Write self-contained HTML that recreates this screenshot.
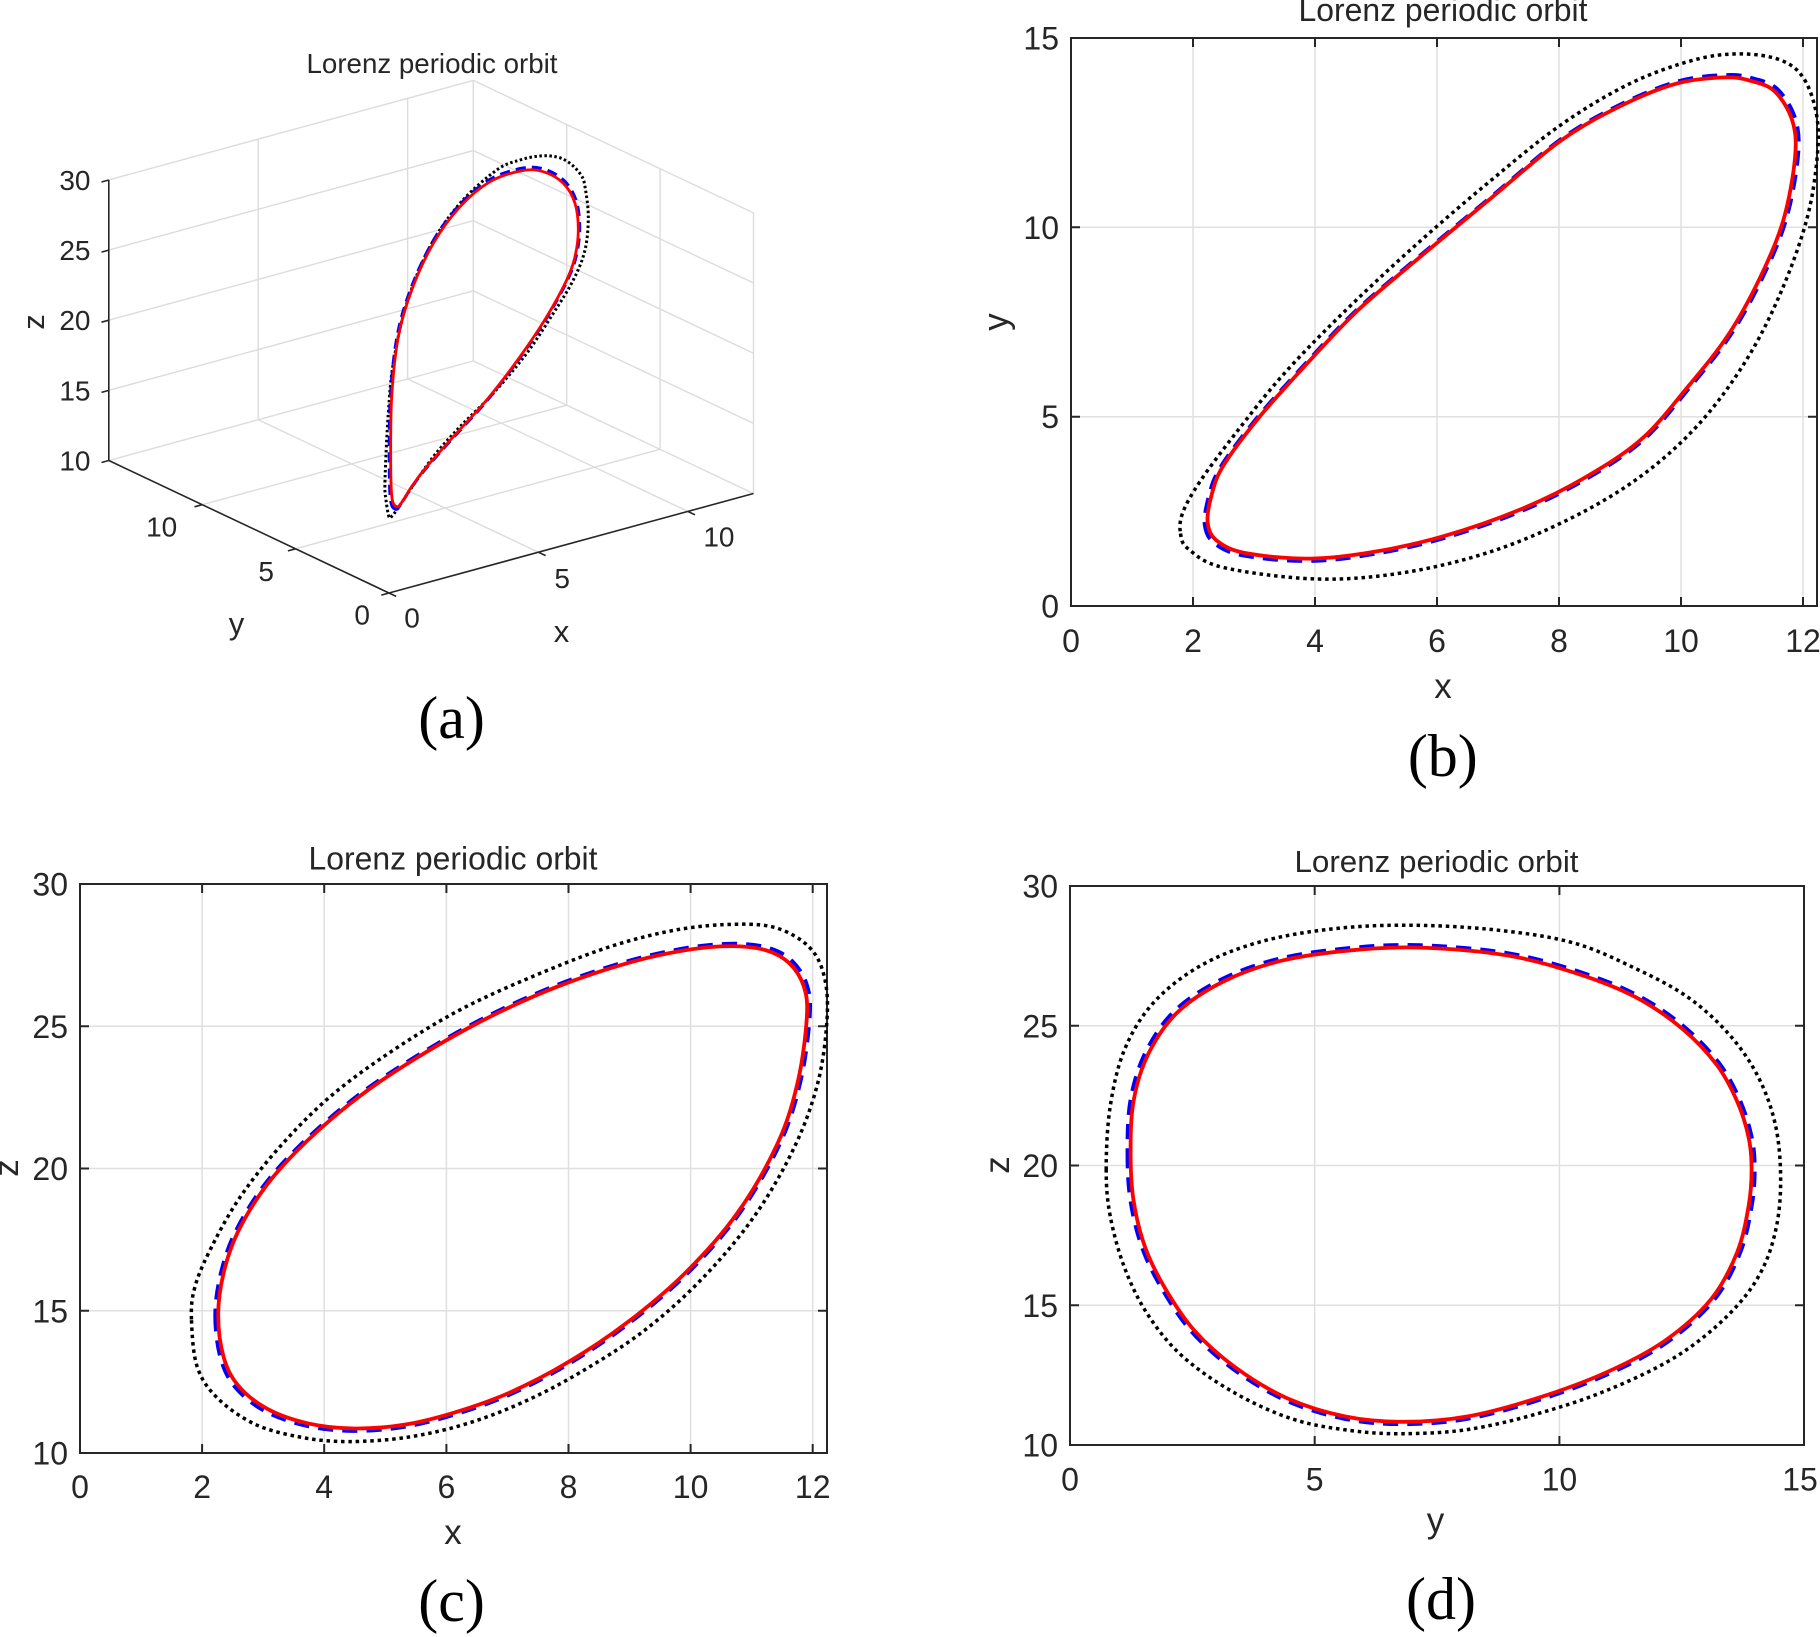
<!DOCTYPE html>
<html>
<head>
<meta charset="utf-8">
<style>
  html, body { margin: 0; padding: 0; background: #ffffff; }
  svg { display: block; }
  text { font-family: "Liberation Sans", Arial, sans-serif; fill: #262626; }
  .serif { font-family: "Liberation Serif", "Times New Roman", serif; fill: #000; }
</style>
</head>
<body>
<svg id="fig" xmlns="http://www.w3.org/2000/svg" xmlns:xlink="http://www.w3.org/1999/xlink" width="1820" height="1637" viewBox="0 0 1820 1637">
<rect x="0" y="0" width="1820" height="1637" fill="#ffffff"/>

<defs>
  <path class="crv" id="ra" d="M396.7,506.7 392,498 390.7,463.3 391.7,396.7 398.3,336.7 411.7,290 433.3,243.3 460,206.7 490,181.7 521.7,170.7 543.3,171.7 563.3,183.3 575,203.3 578.3,230 575,256.7 566.7,280 546.7,316.7 520,356.7 486.7,400 453.3,436.7 426.7,466.7 412,486 402,502 Z"/>
  <path class="crv" id="ka" d="M389,517 386,500 385,480 388.3,413.3 393.3,363.3 406.7,303.3 430,246.7 460,203.3 496.7,170 520,160 540,156 557,157 570,163.3 581,175 585,186.7 588.3,216.7 585,250 573.3,280 553.3,313.3 526.7,353.3 493.3,393.3 460,426.7 433.3,456.7 410,490 396.7,510 392,516 Z"/>

  <path class="crv" id="rb" d="M1207.7,523 1217.6,541.3 1246.6,553.3 1310.5,558.6 1374.3,551.8 1444,536.1 1519.4,509.9 1583.3,478.5 1641.3,439.3 1687.7,387 1728.4,334.7 1760.3,277.2 1783.5,219.7 1795.1,156.9 1792.2,120.3 1774.8,91.5 1751.6,81.1 1725.5,77.4 1676.1,83.7 1618.1,107.2 1560,141.2 1490.4,198.7 1420.8,256.3 1356.9,311.2 1304.7,366.1 1258.2,418.4 1223.4,465.5 1211.8,494.2 Z"/>
  <path class="crv" id="kb" d="M1180.5,533.5 1188.6,549.2 1223.4,567.5 1316.3,579 1403.3,572.7 1490.4,551.8 1571.7,517.8 1641.3,475.9 1699.3,423.6 1745.8,360.9 1780.6,292.9 1806.7,219.7 1817.2,156.9 1816.6,115.1 1803.8,78.5 1780.6,60.1 1740,53.9 1693.5,60.1 1629.7,83.7 1560,125.5 1484.6,185.7 1409.1,251 1339.5,316.4 1281.5,376.6 1235,434.1 1200.2,481.2 1182.8,512.5 Z"/>

  <path class="crv" id="rc" d="M218.2,1314.9 223.5,1356.6 238,1385.3 267,1408.7 307.6,1423.3 354,1428.5 406.3,1424.4 458.5,1411.3 510.8,1392.1 568.8,1361.8 626.8,1322.8 684.9,1273.3 737.1,1213.4 777.8,1143 798.1,1080.5 806.8,1018 803.9,986.7 789.4,963.3 766.1,950.3 731.3,946.1 684.9,950.3 626.8,963.3 557.2,986.7 487.5,1018 417.9,1057.1 359.8,1096.1 307.6,1140.4 267,1184.7 238,1231.6 223.5,1273.3 Z"/>
  <path class="crv" id="kc" d="M191.5,1320.2 197.3,1367.1 217.7,1398.3 255.4,1424.4 301.8,1437.4 348.2,1441.6 406.3,1437.4 464.3,1424.4 522.4,1402.5 580.4,1372.3 644.2,1330.6 702.3,1278.5 754.5,1216 795.1,1145.6 818.4,1080.5 827.1,1018 824.2,976.3 809.7,947.6 777.8,928.4 737.1,924.2 679.1,929.4 615.2,945 545.6,971.1 464.3,1007.6 394.7,1049.2 330.8,1096.1 278.6,1148.2 238,1200.3 208.9,1252.4 194.4,1288.9 Z"/>

  <path class="crv" id="rd" d="M1130.6,1153.4 1133.5,1200.3 1145.1,1247.2 1165.4,1288.9 1194.4,1330.6 1235,1367.1 1287.3,1398.3 1345.3,1416.5 1403.3,1421.8 1467.2,1416.5 1536.8,1398.3 1606.5,1372.3 1664.5,1341 1711,1299.3 1737.1,1252.4 1748.7,1205.5 1751.6,1169.1 1748.7,1137.8 1737.1,1101.3 1716.8,1064.9 1681.9,1028.4 1635.5,997.1 1577.5,973.7 1507.8,955.5 1420.8,947.6 1351.1,950.3 1281.5,960.7 1223.4,981.5 1177,1012.8 1148,1054.5 1133.5,1101.3 Z"/>
  <path class="crv" id="kd" d="M1106.2,1169.1 1110.2,1216 1124.7,1268.1 1148,1314.9 1182.8,1356.6 1235,1393.1 1293.1,1419.2 1351.1,1430.6 1403.3,1433.7 1467.2,1429.6 1536.8,1413.9 1606.5,1390.5 1676.1,1356.6 1728.4,1314.9 1760.3,1273.3 1776.5,1226.4 1780.6,1174.3 1774.8,1122.2 1757.4,1075.3 1728.4,1033.6 1687.7,997.1 1635.5,968.5 1571.7,942.4 1490.4,929.4 1403.3,925.2 1327.9,929.4 1258.3,942.4 1200.2,965.9 1153.8,1002.4 1124.7,1049.2 1110.2,1106.6 Z"/>
</defs>

<!-- ================= Panel (a) : 3D ================= -->
<g>
  <path fill="none" stroke="#dcdcdc" stroke-width="1.4" d="
    M258.2,419.7 L258.2,139.1 M407.6,378.9 L407.6,98.3 M473.3,361 L473.3,80.4
    M108.8,390.35 L473.3,290.85 M108.8,320.2 L473.3,220.7 M108.8,250.05 L473.3,150.55 M108.8,179.9 L473.3,80.4
    M753.5,493.5 L753.5,212.9 M660.1,449.3 L660.1,168.7 M566.7,405.2 L566.7,124.6
    M473.3,290.85 L753.5,423.35 M473.3,220.7 L753.5,353.2 M473.3,150.55 L753.5,283.05 M473.3,80.4 L753.5,212.9
    M538.4,552.2 L258.2,419.7 M687.8,511.4 L407.6,378.9 M753.5,493.5 L473.3,361
    M295.6,548.8 L660.1,449.3 M202.2,504.7 L566.7,405.2 M108.8,460.5 L473.3,361"/>
  <path fill="none" stroke="#262626" stroke-width="1.6" d="
    M108.8,180 L108.8,460.5 M389,593 L108.8,460.5 M389,593 L753.5,493.5
    M108.8,180 L101.5,182 M108.8,250.1 L101.5,252.1 M108.8,320.2 L101.5,322.2 M108.8,390.4 L101.5,392.4 M108.8,460.5 L101.5,462.5
    M389,593 L381.3,595.1 M295.6,548.8 L287.9,550.9 M202.2,504.7 L194.5,506.8
    M389,593 L396.2,596.4 M538.4,552.2 L545.6,555.6 M687.8,511.4 L695,514.8"/>
  <use xlink:href="#ka" href="#ka" fill="none" stroke="#000" stroke-width="3" stroke-dasharray="2.5 2.5"/>
  <use xlink:href="#ra" href="#ra" fill="none" stroke="#0000ff" stroke-width="3" stroke-dasharray="10 6" transform="matrix(1.015 0 0 1.015 -7.26 -5.085)"/>
  <use xlink:href="#ra" href="#ra" fill="none" stroke="#ff0000" stroke-width="2.8" stroke-linejoin="round"/>
  <text x="432" y="73" font-size="28" text-anchor="middle" textLength="251" lengthAdjust="spacingAndGlyphs">Lorenz periodic orbit</text>
  <g font-size="28" text-anchor="end">
    <text x="90.5" y="190">30</text>
    <text x="90.5" y="260">25</text>
    <text x="90.5" y="330">20</text>
    <text x="90.5" y="400.4">15</text>
    <text x="90.5" y="470.5">10</text>
  </g>
  <g font-size="28" text-anchor="middle">
    <text x="161.7" y="536.4">10</text>
    <text x="266.2" y="581.2">5</text>
    <text x="362.2" y="624.3">0</text>
    <text x="412" y="627.6">0</text>
    <text x="562.2" y="587.8">5</text>
    <text x="718.9" y="546.3">10</text>
  </g>
  <text x="236.5" y="634" font-size="31" text-anchor="middle">y</text>
  <text x="561.5" y="642" font-size="31" text-anchor="middle">x</text>
  <text transform="translate(44,322) rotate(-90)" font-size="31" text-anchor="middle">z</text>
  <text class="serif" x="451.6" y="738" font-size="60" text-anchor="middle">(a)</text>
</g>

<!-- ================= Panel (b) : x-y ================= -->
<g>
  <path fill="none" stroke="#e0e0e0" stroke-width="1.5" d="
    M1193,38 L1193,606 M1315,38 L1315,606 M1437,38 L1437,606 M1559,38 L1559,606 M1681,38 L1681,606 M1803,38 L1803,606
    M1071,227.3 L1817,227.3 M1071,416.7 L1817,416.7"/>
  <path fill="none" stroke="#262626" stroke-width="2" d="
    M1071,38 L1817,38 L1817,606 L1071,606 Z
    M1193,606 L1193,597 M1315,606 L1315,597 M1437,606 L1437,597 M1559,606 L1559,597 M1681,606 L1681,597 M1803,606 L1803,597
    M1193,38 L1193,47 M1315,38 L1315,47 M1437,38 L1437,47 M1559,38 L1559,47 M1681,38 L1681,47 M1803,38 L1803,47
    M1071,227.3 L1080,227.3 M1071,416.7 L1080,416.7 M1817,227.3 L1808,227.3 M1817,416.7 L1808,416.7"/>
  <use xlink:href="#kb" href="#kb" fill="none" stroke="#000" stroke-width="3.5" stroke-dasharray="3.5 3.8"/>
  <use xlink:href="#rb" href="#rb" fill="none" stroke="#0000ff" stroke-width="3.8" stroke-dasharray="15 9" transform="matrix(1.01 0 0 1.01 -15 -3.18)"/>
  <use xlink:href="#rb" href="#rb" fill="none" stroke="#ff0000" stroke-width="3.8" stroke-linejoin="round"/>
  <text x="1443" y="21" font-size="32" text-anchor="middle" textLength="289" lengthAdjust="spacingAndGlyphs">Lorenz periodic orbit</text>
  <g font-size="32" text-anchor="end">
    <text x="1059" y="49.5">15</text>
    <text x="1059" y="238.8">10</text>
    <text x="1059" y="428.2">5</text>
    <text x="1059" y="617.5">0</text>
  </g>
  <g font-size="32" text-anchor="middle">
    <text x="1071" y="652">0</text>
    <text x="1193" y="652">2</text>
    <text x="1315" y="652">4</text>
    <text x="1437" y="652">6</text>
    <text x="1559" y="652">8</text>
    <text x="1681" y="652">10</text>
    <text x="1803" y="652">12</text>
  </g>
  <text x="1443" y="698" font-size="35" text-anchor="middle">x</text>
  <text transform="translate(1007.5,322) rotate(-90)" font-size="35" text-anchor="middle">y</text>
  <text class="serif" x="1442.8" y="776" font-size="60" text-anchor="middle">(b)</text>
</g>

<!-- ================= Panel (c) : x-z ================= -->
<g>
  <path fill="none" stroke="#e0e0e0" stroke-width="1.5" d="
    M202.1,884 L202.1,1453 M324.2,884 L324.2,1453 M446.4,884 L446.4,1453 M568.5,884 L568.5,1453 M690.6,884 L690.6,1453 M812.7,884 L812.7,1453
    M80,1310.75 L827,1310.75 M80,1168.5 L827,1168.5 M80,1026.25 L827,1026.25"/>
  <path fill="none" stroke="#262626" stroke-width="2" d="
    M80,884 L827,884 L827,1453 L80,1453 Z
    M202.1,1453 L202.1,1444 M324.2,1453 L324.2,1444 M446.4,1453 L446.4,1444 M568.5,1453 L568.5,1444 M690.6,1453 L690.6,1444 M812.7,1453 L812.7,1444
    M202.1,884 L202.1,893 M324.2,884 L324.2,893 M446.4,884 L446.4,893 M568.5,884 L568.5,893 M690.6,884 L690.6,893 M812.7,884 L812.7,893
    M80,1310.75 L89,1310.75 M80,1168.5 L89,1168.5 M80,1026.25 L89,1026.25
    M827,1310.75 L818,1310.75 M827,1168.5 L818,1168.5 M827,1026.25 L818,1026.25"/>
  <use xlink:href="#kc" href="#kc" fill="none" stroke="#000" stroke-width="3.5" stroke-dasharray="3.5 3.8"/>
  <use xlink:href="#rc" href="#rc" fill="none" stroke="#0000ff" stroke-width="3.8" stroke-dasharray="15 9" transform="matrix(1.01 0 0 1.01 -5.125 -11.87)"/>
  <use xlink:href="#rc" href="#rc" fill="none" stroke="#ff0000" stroke-width="3.8" stroke-linejoin="round"/>
  <text x="453" y="869.5" font-size="32" text-anchor="middle" textLength="289" lengthAdjust="spacingAndGlyphs">Lorenz periodic orbit</text>
  <g font-size="32" text-anchor="end">
    <text x="68" y="895.5">30</text>
    <text x="68" y="1037.75">25</text>
    <text x="68" y="1180">20</text>
    <text x="68" y="1322.25">15</text>
    <text x="68" y="1464.5">10</text>
  </g>
  <g font-size="32" text-anchor="middle">
    <text x="80" y="1498">0</text>
    <text x="202.1" y="1498">2</text>
    <text x="324.2" y="1498">4</text>
    <text x="446.4" y="1498">6</text>
    <text x="568.5" y="1498">8</text>
    <text x="690.6" y="1498">10</text>
    <text x="812.7" y="1498">12</text>
  </g>
  <text x="453" y="1544" font-size="35" text-anchor="middle">x</text>
  <text transform="translate(18,1168) rotate(-90)" font-size="35" text-anchor="middle">z</text>
  <text class="serif" x="451.6" y="1621" font-size="60" text-anchor="middle">(c)</text>
</g>

<!-- ================= Panel (d) : y-z ================= -->
<g>
  <path fill="none" stroke="#e0e0e0" stroke-width="1.5" d="
    M1314.7,886 L1314.7,1445 M1559.4,886 L1559.4,1445
    M1070,1305.25 L1804,1305.25 M1070,1165.5 L1804,1165.5 M1070,1025.75 L1804,1025.75"/>
  <path fill="none" stroke="#262626" stroke-width="2" d="
    M1070,886 L1804,886 L1804,1445 L1070,1445 Z
    M1314.7,1445 L1314.7,1436 M1559.4,1445 L1559.4,1436
    M1314.7,886 L1314.7,895 M1559.4,886 L1559.4,895
    M1070,1305.25 L1079,1305.25 M1070,1165.5 L1079,1165.5 M1070,1025.75 L1079,1025.75
    M1804,1305.25 L1795,1305.25 M1804,1165.5 L1795,1165.5 M1804,1025.75 L1795,1025.75"/>
  <use xlink:href="#kd" href="#kd" fill="none" stroke="#000" stroke-width="3.5" stroke-dasharray="3.5 3.8"/>
  <use xlink:href="#rd" href="#rd" fill="none" stroke="#0000ff" stroke-width="3.8" stroke-dasharray="15 9" transform="matrix(1.01 0 0 1.01 -14.41 -11.85)"/>
  <use xlink:href="#rd" href="#rd" fill="none" stroke="#ff0000" stroke-width="3.8" stroke-linejoin="round"/>
  <text x="1436.5" y="872" font-size="31" text-anchor="middle" textLength="284" lengthAdjust="spacingAndGlyphs">Lorenz periodic orbit</text>
  <g font-size="32" text-anchor="end">
    <text x="1058" y="897.5">30</text>
    <text x="1058" y="1037.25">25</text>
    <text x="1058" y="1177">20</text>
    <text x="1058" y="1316.75">15</text>
    <text x="1058" y="1456.5">10</text>
  </g>
  <g font-size="32" text-anchor="middle">
    <text x="1070" y="1490.5">0</text>
    <text x="1314.7" y="1490.5">5</text>
    <text x="1559.4" y="1490.5">10</text>
    <text x="1800" y="1490.5">15</text>
  </g>
  <text x="1435.5" y="1532" font-size="35" text-anchor="middle">y</text>
  <text transform="translate(1009,1165) rotate(-90)" font-size="35" text-anchor="middle">z</text>
  <text class="serif" x="1441" y="1619" font-size="60" text-anchor="middle">(d)</text>
</g>
</svg>
<script>
(function(){
  var els = document.querySelectorAll('path.crv');
  for (var k = 0; k < els.length; k++) {
    var el = els[k];
    var nums = el.getAttribute('d').replace(/[MZ]/g, ' ').trim().split(/[\s,]+/).map(Number);
    var P = [];
    for (var i = 0; i + 1 < nums.length; i += 2) P.push([nums[i], nums[i+1]]);
    var n = P.length;
    if (n < 4) continue;
    var f = function(v){ return (Math.round(v*10)/10).toString(); };
    var d = 'M' + f(P[0][0]) + ',' + f(P[0][1]);
    for (var j = 0; j < n; j++) {
      var p0 = P[(j-1+n)%n], p1 = P[j], p2 = P[(j+1)%n], p3 = P[(j+2)%n];
      var c1x = p1[0] + (p2[0]-p0[0])/6, c1y = p1[1] + (p2[1]-p0[1])/6;
      var c2x = p2[0] - (p3[0]-p1[0])/6, c2y = p2[1] - (p3[1]-p1[1])/6;
      d += ' C' + f(c1x) + ',' + f(c1y) + ' ' + f(c2x) + ',' + f(c2y) + ' ' + f(p2[0]) + ',' + f(p2[1]);
    }
    d += ' Z';
    el.setAttribute('d', d);
  }
})();
</script>
</body>
</html>
